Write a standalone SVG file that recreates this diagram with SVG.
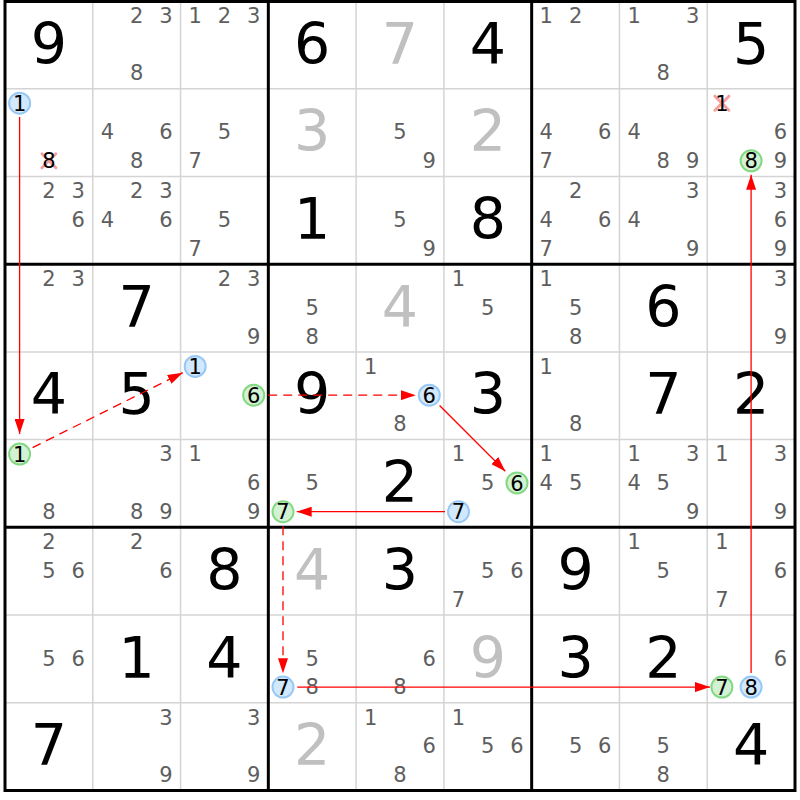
<svg xmlns="http://www.w3.org/2000/svg" width="800" height="800" viewBox="0 0 800 800">
<style>
text{font-family:"DejaVu Sans","Liberation Sans",sans-serif;text-anchor:middle}
.g{font-size:57px;fill:#000}
.p{font-size:57px;fill:#c0c0c0}
.c{font-size:21px;fill:#5e5e5e}
.k{font-size:21px;fill:#000}
.cb{fill:#d2e8fd;stroke:#98c8f6;stroke-width:2}
.cg{fill:#d3f2d3;stroke:#84d884;stroke-width:2}
.x{stroke:#f5a0a0;stroke-width:3;stroke-linecap:round}
.thin{stroke:#d4d4d4;stroke-width:1.5}
.thick{stroke:#000;stroke-width:3}
.ln{stroke:#ff0000;stroke-width:1.3;fill:none}
.dash{stroke-dasharray:9 6}
</style>
<defs>
<marker id="ah" markerUnits="userSpaceOnUse" markerWidth="15" markerHeight="10" refX="15" refY="5" orient="auto">
<path d="M0,0 L15,5 L0,10 z" fill="#ff0000"/>
</marker>
</defs>
<rect x="0" y="0" width="800" height="800" fill="#fff"/>
<g id="grid">
<line class="thin" x1="92.78" y1="1" x2="92.78" y2="790.5"/>
<line class="thin" x1="180.56" y1="1" x2="180.56" y2="790.5"/>
<line class="thin" x1="356.11" y1="1" x2="356.11" y2="790.5"/>
<line class="thin" x1="443.89" y1="1" x2="443.89" y2="790.5"/>
<line class="thin" x1="619.44" y1="1" x2="619.44" y2="790.5"/>
<line class="thin" x1="707.22" y1="1" x2="707.22" y2="790.5"/>
<line class="thin" x1="5" y1="88.72" x2="795" y2="88.72"/>
<line class="thin" x1="5" y1="176.44" x2="795" y2="176.44"/>
<line class="thin" x1="5" y1="351.88" x2="795" y2="351.88"/>
<line class="thin" x1="5" y1="439.6" x2="795" y2="439.6"/>
<line class="thin" x1="5" y1="615.04" x2="795" y2="615.04"/>
<line class="thin" x1="5" y1="702.76" x2="795" y2="702.76"/>
<line class="thick" x1="268.33" y1="1" x2="268.33" y2="790.5"/>
<line class="thick" x1="531.67" y1="1" x2="531.67" y2="790.5"/>
<line class="thick" x1="5" y1="264.16" x2="795" y2="264.16"/>
<line class="thick" x1="5" y1="527.32" x2="795" y2="527.32"/>
<rect x="5" y="1.5" width="790" height="789" fill="none" stroke="#000" stroke-width="3"/>
</g>
<g id="r0c0"><text class="g" x="48.9" y="63.5">9</text></g>
<g id="r0c1"><text class="c" x="136.7" y="22.8">2</text><text class="c" x="165.9" y="22.8">3</text><text class="c" x="136.7" y="80.4">8</text></g>
<g id="r0c2"><text class="c" x="195.2" y="22.8">1</text><text class="c" x="224.5" y="22.8">2</text><text class="c" x="253.7" y="22.8">3</text></g>
<g id="r0c3"><text class="g" x="312.2" y="63.5">6</text></g>
<g id="r0c4"><text class="p" x="400" y="63.5">7</text></g>
<g id="r0c5"><text class="g" x="487.8" y="63.5">4</text></g>
<g id="r0c6"><text class="c" x="546.3" y="22.8">1</text><text class="c" x="575.6" y="22.8">2</text></g>
<g id="r0c7"><text class="c" x="634.1" y="22.8">1</text><text class="c" x="692.6" y="22.8">3</text><text class="c" x="663.3" y="80.4">8</text></g>
<g id="r0c8"><text class="g" x="751.1" y="63.5">5</text></g>

<g id="r1c0"><circle class="cb" cx="19.6" cy="103.2" r="10.5"/><text class="k" x="19.6" y="110.8">1</text><line class="x" x1="41.9" y1="153.8" x2="55.9" y2="167.8"/><line class="x" x1="55.9" y1="153.8" x2="41.9" y2="167.8"/><text class="k" x="48.9" y="168.4">8</text></g>
<g id="r1c1"><text class="c" x="107.4" y="139.3">4</text><text class="c" x="165.9" y="139.3">6</text><text class="c" x="136.7" y="168.1">8</text></g>
<g id="r1c2"><text class="c" x="224.5" y="139.3">5</text><text class="c" x="195.2" y="168.1">7</text></g>
<g id="r1c3"><text class="p" x="312.2" y="151.2">3</text></g>
<g id="r1c4"><text class="c" x="400" y="139.3">5</text><text class="c" x="429.3" y="168.1">9</text></g>
<g id="r1c5"><text class="p" x="487.8" y="151.2">2</text></g>
<g id="r1c6"><text class="c" x="546.3" y="139.3">4</text><text class="c" x="604.8" y="139.3">6</text><text class="c" x="546.3" y="168.1">7</text></g>
<g id="r1c7"><text class="c" x="634.1" y="139.3">4</text><text class="c" x="663.3" y="168.1">8</text><text class="c" x="692.6" y="168.1">9</text></g>
<g id="r1c8"><line class="x" x1="714.9" y1="96.2" x2="728.9" y2="110.2"/><line class="x" x1="728.9" y1="96.2" x2="714.9" y2="110.2"/><text class="k" x="721.9" y="110.8">1</text><text class="c" x="780.4" y="139.3">6</text><circle class="cg" cx="751.1" cy="160.8" r="10.5"/><text class="k" x="751.1" y="168.4">8</text><text class="c" x="780.4" y="168.1">9</text></g>

<g id="r2c0"><text class="c" x="48.9" y="198.2">2</text><text class="c" x="78.2" y="198.2">3</text><text class="c" x="78.2" y="227">6</text></g>
<g id="r2c1"><text class="c" x="136.7" y="198.2">2</text><text class="c" x="165.9" y="198.2">3</text><text class="c" x="107.4" y="227">4</text><text class="c" x="165.9" y="227">6</text></g>
<g id="r2c2"><text class="c" x="224.5" y="227">5</text><text class="c" x="195.2" y="255.8">7</text></g>
<g id="r2c3"><text class="g" x="312.2" y="238.9">1</text></g>
<g id="r2c4"><text class="c" x="400" y="227">5</text><text class="c" x="429.3" y="255.8">9</text></g>
<g id="r2c5"><text class="g" x="487.8" y="238.9">8</text></g>
<g id="r2c6"><text class="c" x="575.6" y="198.2">2</text><text class="c" x="546.3" y="227">4</text><text class="c" x="604.8" y="227">6</text><text class="c" x="546.3" y="255.8">7</text></g>
<g id="r2c7"><text class="c" x="692.6" y="198.2">3</text><text class="c" x="634.1" y="227">4</text><text class="c" x="692.6" y="255.8">9</text></g>
<g id="r2c8"><text class="c" x="780.4" y="198.2">3</text><text class="c" x="780.4" y="227">6</text><text class="c" x="780.4" y="255.8">9</text></g>

<g id="r3c0"><text class="c" x="48.9" y="286">2</text><text class="c" x="78.2" y="286">3</text></g>
<g id="r3c1"><text class="g" x="136.7" y="326.7">7</text></g>
<g id="r3c2"><text class="c" x="224.5" y="286">2</text><text class="c" x="253.7" y="286">3</text><text class="c" x="253.7" y="343.6">9</text></g>
<g id="r3c3"><text class="c" x="312.2" y="314.8">5</text><text class="c" x="312.2" y="343.6">8</text></g>
<g id="r3c4"><text class="p" x="400" y="326.7">4</text></g>
<g id="r3c5"><text class="c" x="458.5" y="286">1</text><text class="c" x="487.8" y="314.8">5</text></g>
<g id="r3c6"><text class="c" x="546.3" y="286">1</text><text class="c" x="575.6" y="314.8">5</text><text class="c" x="575.6" y="343.6">8</text></g>
<g id="r3c7"><text class="g" x="663.3" y="326.7">6</text></g>
<g id="r3c8"><text class="c" x="780.4" y="286">3</text><text class="c" x="780.4" y="343.6">9</text></g>

<g id="r4c0"><text class="g" x="48.9" y="414.4">4</text></g>
<g id="r4c1"><text class="g" x="136.7" y="414.4">5</text></g>
<g id="r4c2"><circle class="cb" cx="195.2" cy="366.4" r="10.5"/><text class="k" x="195.2" y="374">1</text><circle class="cg" cx="253.7" cy="395.2" r="10.5"/><text class="k" x="253.7" y="402.8">6</text></g>
<g id="r4c3"><text class="g" x="312.2" y="414.4">9</text></g>
<g id="r4c4"><text class="c" x="370.7" y="373.7">1</text><circle class="cb" cx="429.3" cy="395.2" r="10.5"/><text class="k" x="429.3" y="402.8">6</text><text class="c" x="400" y="431.3">8</text></g>
<g id="r4c5"><text class="g" x="487.8" y="414.4">3</text></g>
<g id="r4c6"><text class="c" x="546.3" y="373.7">1</text><text class="c" x="575.6" y="431.3">8</text></g>
<g id="r4c7"><text class="g" x="663.3" y="414.4">7</text></g>
<g id="r4c8"><text class="g" x="751.1" y="414.4">2</text></g>

<g id="r5c0"><circle class="cg" cx="19.6" cy="454.1" r="10.5"/><text class="k" x="19.6" y="461.7">1</text><text class="c" x="48.9" y="519">8</text></g>
<g id="r5c1"><text class="c" x="165.9" y="461.4">3</text><text class="c" x="136.7" y="519">8</text><text class="c" x="165.9" y="519">9</text></g>
<g id="r5c2"><text class="c" x="195.2" y="461.4">1</text><text class="c" x="253.7" y="490.2">6</text><text class="c" x="253.7" y="519">9</text></g>
<g id="r5c3"><text class="c" x="312.2" y="490.2">5</text><circle class="cg" cx="283" cy="511.7" r="10.5"/><text class="k" x="283" y="519.3">7</text></g>
<g id="r5c4"><text class="g" x="400" y="502.1">2</text></g>
<g id="r5c5"><text class="c" x="458.5" y="461.4">1</text><text class="c" x="487.8" y="490.2">5</text><circle class="cg" cx="517" cy="482.9" r="10.5"/><text class="k" x="517" y="490.5">6</text><circle class="cb" cx="458.5" cy="511.7" r="10.5"/><text class="k" x="458.5" y="519.3">7</text></g>
<g id="r5c6"><text class="c" x="546.3" y="461.4">1</text><text class="c" x="546.3" y="490.2">4</text><text class="c" x="575.6" y="490.2">5</text></g>
<g id="r5c7"><text class="c" x="634.1" y="461.4">1</text><text class="c" x="692.6" y="461.4">3</text><text class="c" x="634.1" y="490.2">4</text><text class="c" x="663.3" y="490.2">5</text><text class="c" x="692.6" y="519">9</text></g>
<g id="r5c8"><text class="c" x="721.9" y="461.4">1</text><text class="c" x="780.4" y="461.4">3</text><text class="c" x="780.4" y="519">9</text></g>

<g id="r6c0"><text class="c" x="48.9" y="549.1">2</text><text class="c" x="48.9" y="577.9">5</text><text class="c" x="78.2" y="577.9">6</text></g>
<g id="r6c1"><text class="c" x="136.7" y="549.1">2</text><text class="c" x="165.9" y="577.9">6</text></g>
<g id="r6c2"><text class="g" x="224.5" y="589.8">8</text></g>
<g id="r6c3"><text class="p" x="312.2" y="589.8">4</text></g>
<g id="r6c4"><text class="g" x="400" y="589.8">3</text></g>
<g id="r6c5"><text class="c" x="487.8" y="577.9">5</text><text class="c" x="517" y="577.9">6</text><text class="c" x="458.5" y="606.7">7</text></g>
<g id="r6c6"><text class="g" x="575.6" y="589.8">9</text></g>
<g id="r6c7"><text class="c" x="634.1" y="549.1">1</text><text class="c" x="663.3" y="577.9">5</text></g>
<g id="r6c8"><text class="c" x="721.9" y="549.1">1</text><text class="c" x="780.4" y="577.9">6</text><text class="c" x="721.9" y="606.7">7</text></g>

<g id="r7c0"><text class="c" x="48.9" y="665.6">5</text><text class="c" x="78.2" y="665.6">6</text></g>
<g id="r7c1"><text class="g" x="136.7" y="677.5">1</text></g>
<g id="r7c2"><text class="g" x="224.5" y="677.5">4</text></g>
<g id="r7c3"><text class="c" x="312.2" y="665.6">5</text><circle class="cb" cx="283" cy="687.1" r="10.5"/><text class="k" x="283" y="694.7">7</text><text class="c" x="312.2" y="694.4">8</text></g>
<g id="r7c4"><text class="c" x="429.3" y="665.6">6</text><text class="c" x="400" y="694.4">8</text></g>
<g id="r7c5"><text class="p" x="487.8" y="677.5">9</text></g>
<g id="r7c6"><text class="g" x="575.6" y="677.5">3</text></g>
<g id="r7c7"><text class="g" x="663.3" y="677.5">2</text></g>
<g id="r7c8"><text class="c" x="780.4" y="665.6">6</text><circle class="cg" cx="721.9" cy="687.1" r="10.5"/><text class="k" x="721.9" y="694.7">7</text><circle class="cb" cx="751.1" cy="687.1" r="10.5"/><text class="k" x="751.1" y="694.7">8</text></g>

<g id="r8c0"><text class="g" x="48.9" y="765.3">7</text></g>
<g id="r8c1"><text class="c" x="165.9" y="724.6">3</text><text class="c" x="165.9" y="782.2">9</text></g>
<g id="r8c2"><text class="c" x="253.7" y="724.6">3</text><text class="c" x="253.7" y="782.2">9</text></g>
<g id="r8c3"><text class="p" x="312.2" y="765.3">2</text></g>
<g id="r8c4"><text class="c" x="370.7" y="724.6">1</text><text class="c" x="429.3" y="753.4">6</text><text class="c" x="400" y="782.2">8</text></g>
<g id="r8c5"><text class="c" x="458.5" y="724.6">1</text><text class="c" x="487.8" y="753.4">5</text><text class="c" x="517" y="753.4">6</text></g>
<g id="r8c6"><text class="c" x="575.6" y="753.4">5</text><text class="c" x="604.8" y="753.4">6</text></g>
<g id="r8c7"><text class="c" x="663.3" y="753.4">5</text><text class="c" x="663.3" y="782.2">8</text></g>
<g id="r8c8"><text class="g" x="751.1" y="765.3">4</text></g>

<g id="connectors">
<line class="ln" x1="19.6" y1="117" x2="19.6" y2="434" marker-end="url(#ah)"/>
<line class="ln dash" x1="32.6" y1="447.6" x2="182.7" y2="372.7" marker-end="url(#ah)"/>
<line class="ln dash" x1="268.2" y1="395.2" x2="415.8" y2="395.2" marker-end="url(#ah)"/>
<line class="ln" x1="439.6" y1="405.5" x2="505.3" y2="471.2" marker-end="url(#ah)"/>
<line class="ln" x1="445" y1="511.7" x2="296.7" y2="511.7" marker-end="url(#ah)"/>
<line class="ln dash" x1="283" y1="526.2" x2="283" y2="673.3" marker-end="url(#ah)"/>
<line class="ln" x1="297.3" y1="687.1" x2="710" y2="687.1" marker-end="url(#ah)"/>
<line class="ln" x1="751.1" y1="673" x2="751.1" y2="174.8" marker-end="url(#ah)"/>
</g>
</svg>
